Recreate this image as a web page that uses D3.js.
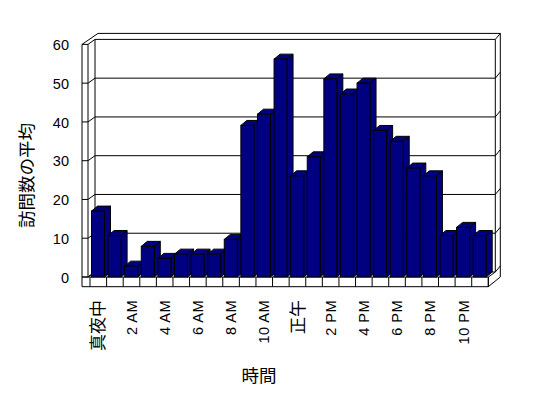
<!DOCTYPE html>
<html>
<head>
<meta charset="utf-8">
<script src="https://cdn.jsdelivr.net/npm/d3@7"></script>
<style>
  html, body { margin: 0; padding: 0; background: #fff; }
  svg { display: block; }
</style>
</head>
<body>
<svg id="chart" width="548" height="398"></svg>
<script>
// ---- data ----
const hours = ["真夜中","1 AM","2 AM","3 AM","4 AM","5 AM","6 AM","7 AM","8 AM","9 AM","10 AM","11 AM",
               "正午","1 PM","2 PM","3 PM","4 PM","5 PM","6 PM","7 PM","8 PM","9 PM","10 PM","11 PM"];
const visits = [17.0, 10.7, 2.8, 7.9, 4.8, 5.9, 5.9, 5.9, 9.7, 39.1, 42.0, 56.2,
                26.1, 31.0, 51.1, 47.2, 50.0, 37.8, 35.0, 28.1, 26.1, 10.7, 12.8, 10.7];
const yTickValues = [0, 10, 20, 30, 40, 50, 60];
const xTickLabels = hours.filter((d, i) => i % 2 === 0);
const yTitle = "訪問数の平均";
const xTitle = "時間";

// ---- layout ----
const svg = d3.select("#chart");
const latinFont = "'Liberation Sans', Arial, 'Noto Sans CJK JP', sans-serif";
const cjkFont = "'Noto Sans CJK JP', sans-serif";
const isCJK = s => /[^\x00-\x7F]/.test(s);

const x = d3.scaleBand().domain(hours).range([90, 488.3]).paddingInner(0).paddingOuter(0);
const y = d3.scaleLinear().domain([0, 60]).range([277, 44.4]);

const wallDX = 7, wallDY = -5;      // depth from front plane to back wall
const outerDX = 5, outerDY = -6;    // wall thickness at top/right
const barDX = 6, barDY = -5;        // bar depth
const leftOuter = 82, leftInner = 88;
const floorBottom = 286.7;
const rightFront = x.range()[1];
const backRight = rightFront + wallDX;
const outerRight = backRight + outerDX;
const y0 = y(0);

const g = svg.append("g");
const line = d3.line();

// silhouette of walls + floor
g.append("path")
  .attr("d", line([
    [leftOuter, y(60)],
    [leftInner + wallDX + outerDX - 2, y(60) + wallDY + outerDY],
    [outerRight, y(60) + wallDY + outerDY],
    [outerRight, y0],
    [rightFront, floorBottom],
    [leftOuter, floorBottom]
  ]) + "Z")
  .attr("fill", "#fff").attr("stroke", "#000").attr("stroke-width", 1);

// inner frame lines
const frameLines = [
  [[leftInner, y(60)], [leftInner, y0]],
  [[leftInner + wallDX, y(60) + wallDY], [leftInner + wallDX, y0 + wallDY]],
  [[backRight, y(60) + wallDY], [backRight, y0 + wallDY]],
  [[leftOuter, y0], [rightFront, y0]],
  [[leftInner, y0], [leftInner + wallDX, y0 + wallDY]],
  [[rightFront, y0], [backRight, y0 + wallDY]],
  [[rightFront, y0], [rightFront, floorBottom]]
];
g.selectAll("path.frame").data(frameLines).enter().append("path")
  .attr("class", "frame")
  .attr("d", d => line(d))
  .attr("fill", "none").attr("stroke", "#000").attr("stroke-width", 1);

// gridlines (front tick -> left wall -> back wall -> right edge)
g.selectAll("path.grid").data(yTickValues).enter().append("path")
  .attr("class", "grid")
  .attr("d", v => line([
    [leftOuter, y(v)],
    [leftInner, y(v)],
    [leftInner + wallDX, y(v) + wallDY],
    [backRight, y(v) + wallDY],
    [outerRight, y(v) + wallDY + outerDY]
  ]))
  .attr("fill", "none").attr("stroke", "#000").attr("stroke-width", 1);

// floor front face category ticks
const tickXs = hours.map(h => x(h)).concat([rightFront]);
g.selectAll("line.ftick").data(tickXs).enter().append("line")
  .attr("class", "ftick")
  .attr("x1", d => d).attr("x2", d => d)
  .attr("y1", y0).attr("y2", floorBottom)
  .attr("stroke", "#000").attr("stroke-width", 1);

// bars
const barW = 13, barOff = 1.5;
const bars = g.append("g").selectAll("g.bar").data(hours.map((h, i) => ({h, v: visits[i]})))
  .enter().append("g").attr("class", "bar");
bars.append("path") // side face
  .attr("d", d => {
    const x0 = x(d.h) + barOff + barW, yt = y(d.v);
    return line([[x0, yt], [x0 + barDX, yt + barDY], [x0 + barDX, y0 + barDY], [x0, y0]]) + "Z";
  })
  .attr("fill", "#000080").attr("stroke", "#000").attr("stroke-width", 1);
bars.append("path") // top face
  .attr("d", d => {
    const x0 = x(d.h) + barOff, yt = y(d.v);
    return line([[x0, yt], [x0 + barW, yt], [x0 + barW + barDX, yt + barDY], [x0 + barDX, yt + barDY]]) + "Z";
  })
  .attr("fill", "#000080").attr("stroke", "#000").attr("stroke-width", 1);
bars.append("rect") // front face
  .attr("x", d => x(d.h) + barOff)
  .attr("y", d => y(d.v))
  .attr("width", barW)
  .attr("height", d => y0 - y(d.v))
  .attr("fill", "#000080").attr("stroke", "#000").attr("stroke-width", 1);

// y axis labels
const yAxis = svg.append("g")
  .attr("transform", "translate(69,0)")
  .call(d3.axisLeft(y).tickValues(yTickValues).tickSize(0).tickPadding(0).tickFormat(d3.format("d")));
yAxis.select(".domain").remove();
yAxis.selectAll("text")
  .attr("font-family", latinFont).attr("font-size", 14.5).attr("fill", "#000")
  .attr("dy", "0.36em");

// x axis labels (rotated)
const xAxis = svg.append("g")
  .attr("transform", "translate(0,300)")
  .call(d3.axisBottom(x).tickValues(xTickLabels).tickSize(0).tickPadding(0));
xAxis.select(".domain").remove();
xAxis.selectAll("text")
  .attr("transform", "rotate(-90)")
  .attr("x", 0).attr("y", 0)
  .attr("dy", "0.36em")
  .attr("text-anchor", "end")
  .attr("font-family", d => isCJK(d) ? cjkFont : latinFont)
  .attr("font-size", d => isCJK(d) ? 17 : 14.5)
  .attr("letter-spacing", d => isCJK(d) ? 0 : 0.5)
  .attr("fill", "#000");

// axis titles
svg.append("text")
  .attr("transform", "translate(27,175.5) rotate(-90)")
  .attr("text-anchor", "middle").attr("dy", "0.36em")
  .attr("font-family", cjkFont).attr("font-size", 17.5).attr("fill", "#000")
  .text(yTitle);
svg.append("text")
  .attr("x", 259).attr("y", 376)
  .attr("text-anchor", "middle").attr("dy", "0.36em")
  .attr("font-family", cjkFont).attr("font-size", 17.5).attr("fill", "#000")
  .text(xTitle);
</script>
</body>
</html>
